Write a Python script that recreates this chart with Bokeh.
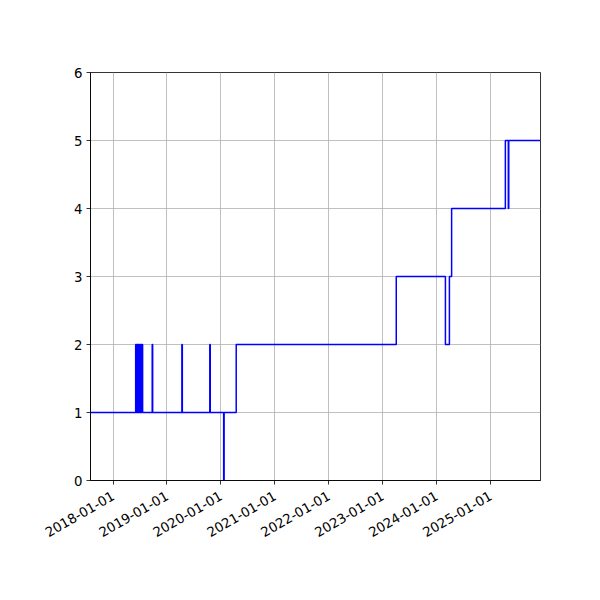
import math

import pandas as pd
from bokeh.embed import file_html
from bokeh.models import DatetimeTickFormatter, FixedTicker, Range1d
from bokeh.plotting import figure
from bokeh.resources import INLINE

# step data (value holds until the next date)
dates = [
    "2017-08-01", "2018-06-03", "2018-06-06", "2018-06-09", "2018-06-12",
    "2018-06-15", "2018-06-18", "2018-06-21", "2018-06-24", "2018-06-27",
    "2018-06-30", "2018-07-03", "2018-07-06", "2018-07-09", "2018-07-12",
    "2018-07-15", "2018-07-20", "2018-09-23", "2018-09-26", "2019-04-12",
    "2019-04-15", "2019-10-18", "2019-10-21", "2020-01-20", "2020-01-23",
    "2020-04-14", "2023-04-03", "2024-03-01", "2024-03-28", "2024-04-12",
    "2025-04-11", "2025-05-01", "2025-05-04", "2025-12-05",
]
values = [
    1, 2, 1, 2, 1,
    2, 1, 2, 1, 2,
    1, 2, 1, 2, 1,
    2, 1, 2, 1, 2,
    1, 2, 1, 0, 1,
    2, 3, 2, 3, 4,
    5, 4, 5, 5,
]
tick_dates = ["2018-01-01", "2019-01-01", "2020-01-01", "2021-01-01",
              "2022-01-01", "2023-01-01", "2024-01-01", "2025-01-01"]
y_ticks = [0, 1, 2, 3, 4, 5, 6]

x = pd.to_datetime(dates)
ticks_ms = [pd.Timestamp(d).value / 1e6 for d in tick_dates]

p = figure(width=584, height=584, x_axis_type="datetime",
           output_backend="svg", toolbar_location=None,
           x_range=Range1d(x[0], x[-1]), y_range=Range1d(0, 6),
           min_border_left=90, min_border_right=44,
           min_border_top=72, min_border_bottom=104)

p.step(x, values, mode="after", line_color="blue", line_width=1.5)

# frame and grid, matplotlib-like
p.outline_line_color = "black"
p.outline_line_width = 0.8
p.background_fill_color = "white"
p.border_fill_color = "white"
p.grid.grid_line_color = "#b0b0b0"
p.grid.grid_line_width = 0.8

p.xaxis.ticker = FixedTicker(ticks=ticks_ms)
p.xaxis.formatter = DatetimeTickFormatter(
    years="%Y-%m-%d", months="%Y-%m-%d", days="%Y-%m-%d")
p.xaxis.major_label_orientation = math.pi / 6
p.yaxis.ticker = FixedTicker(ticks=y_ticks)

for ax in (p.xaxis, p.yaxis):
    ax.axis_line_color = "black"
    ax.axis_line_width = 0.8
    ax.major_tick_line_color = "black"
    ax.major_tick_line_width = 0.8
    ax.major_tick_in = 0
    ax.major_tick_out = 4
    ax.minor_tick_line_color = None
    ax.major_label_text_font = "DejaVu Sans"
    ax.major_label_text_font_size = "13.3px"
    ax.major_label_text_color = "black"
    ax.major_label_standoff = 4

p.xaxis.major_label_standoff = 10

open("out.html", "w").write(file_html(p, INLINE))
